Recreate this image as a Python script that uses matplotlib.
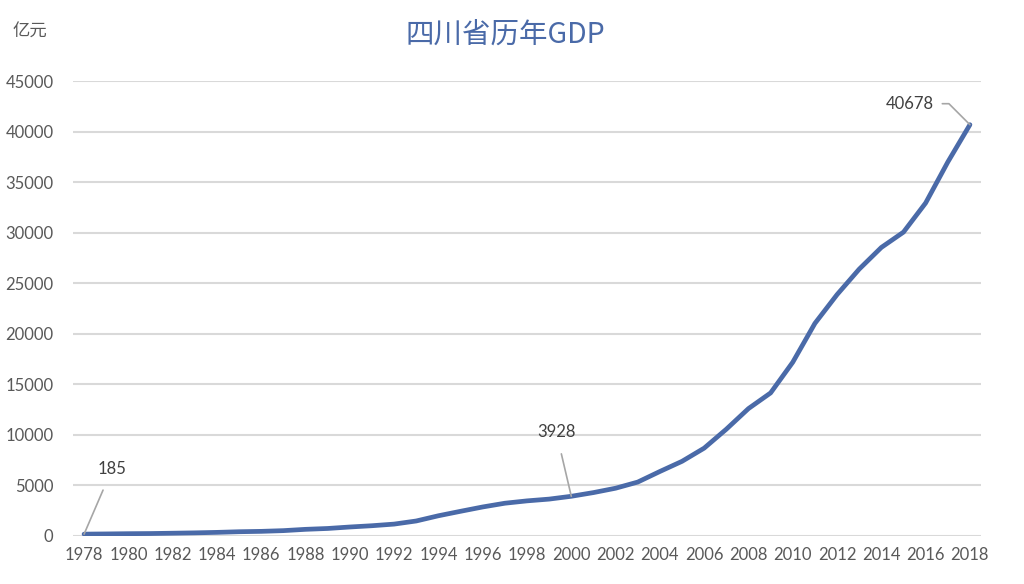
import matplotlib
matplotlib.use("Agg")
import matplotlib.pyplot as plt

# DATA: Sichuan GDP, 100 million yuan
years = list(range(1978, 2019))
gdp = [185, 205, 229, 243, 276, 311, 358, 422, 459, 530,
       659, 744, 890, 1016, 1177, 1486, 2001, 2443, 2872, 3241,
       3474, 3649, 3928, 4293, 4725, 5333, 6380, 7385, 8690, 10562,
       12601, 14151, 17185, 21027, 23873, 26392, 28537, 30053, 32935, 36980,
       40678]
xticks = list(range(1978, 2019, 2))
yticks = list(range(0, 45001, 5000))
labelled_years = [1978, 2000, 2018]

plt.rcParams['font.family'] = ['Lato', 'Noto Sans CJK SC', 'DejaVu Sans']

fig = plt.figure(figsize=(10.24, 5.84), dpi=100)
ax = fig.add_axes([0.0713, 0.0822, 0.8867, 0.7791])

ax.plot(years, gdp, color='#4a6aa8', lw=3.4, solid_capstyle='round', zorder=3)

ax.set_xlim(1977.5, 2018.5)
ax.set_ylim(0, 45000)
ax.set_xticks(xticks)
ax.set_yticks(yticks)
ax.tick_params(length=0, labelsize=12, labelcolor='#595959', pad=8)
ax.tick_params(axis='y', pad=14)
ax.grid(axis='y', color='#d9d9d9', lw=1.5)
ax.set_axisbelow(True)
for s in ax.spines.values():
    s.set_visible(False)

# DATA LABELS
offsets = {1978: (28, 65), 2000: (-15, 64), 2018: (-60, 21)}
for yr in labelled_years:
    v = gdp[years.index(yr)]
    dx, dy = offsets[yr]
    if yr == 2018:
        ax.annotate(str(v), xy=(yr, v), xytext=(dx, dy), textcoords='offset pixels',
                    ha='center', va='center', fontsize=12, color='#404040',
                    arrowprops=dict(arrowstyle='-', color='#a6a6a6', lw=1.2,
                                    connectionstyle='angle,angleA=0,angleB=135,rad=0',
                                    shrinkA=4, shrinkB=0, relpos=(1, 0.5)))
    else:
        ax.annotate(str(v), xy=(yr, v), xytext=(dx, dy), textcoords='offset pixels',
                    ha='center', va='center', fontsize=12, color='#404040',
                    arrowprops=dict(arrowstyle='-', color='#a6a6a6', lw=1.2,
                                    shrinkA=8, shrinkB=0))

fig.text(0.493, 0.94, '四川省历年GDP', ha='center', va='center',
         fontsize=20.5, color='#4a6aa8', family=['Noto Sans CJK SC', 'DejaVu Sans'])
fig.text(0.012, 0.945, '亿元', ha='left', va='center', fontsize=12.5,
         color='#595959', family=['Noto Sans CJK SC', 'DejaVu Sans'])

fig.savefig('out.png', dpi=100, facecolor='white')
